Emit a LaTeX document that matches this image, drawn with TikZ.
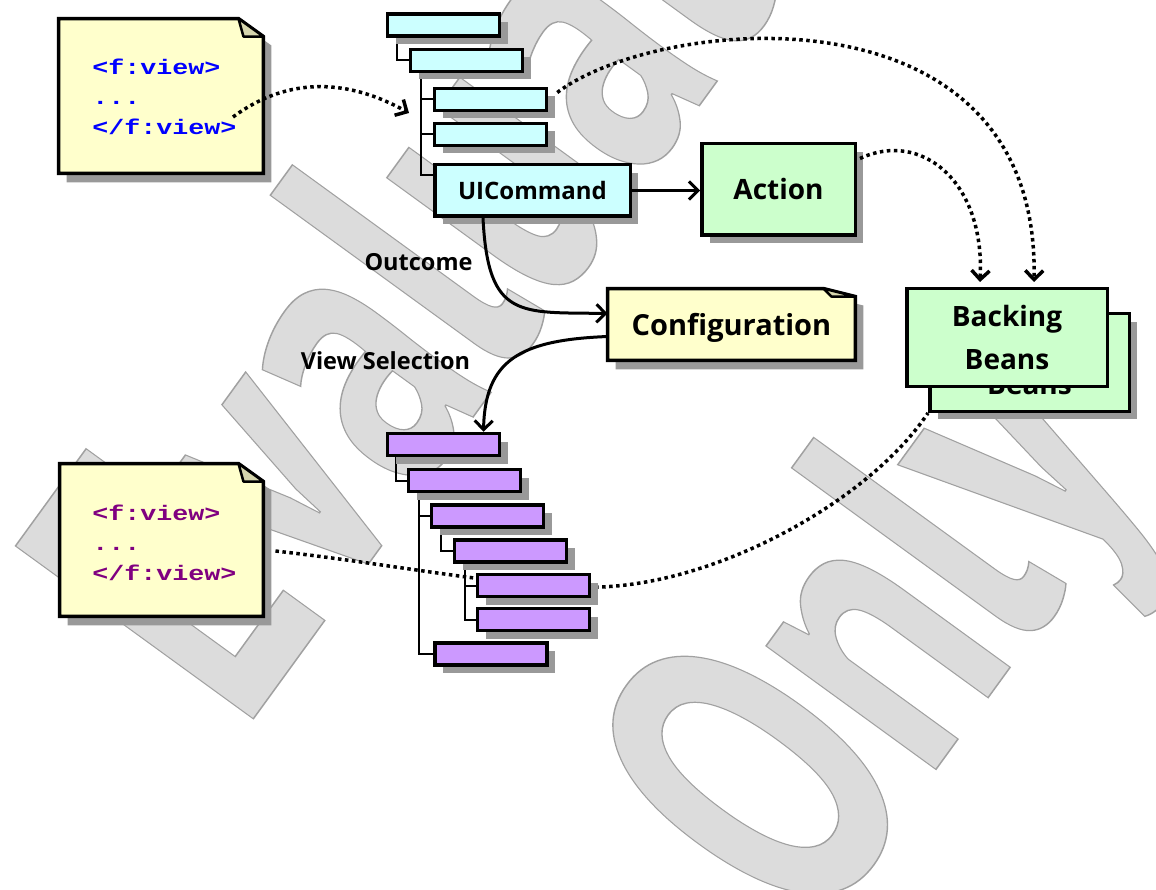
\documentclass[tikz,border=0pt]{standalone}
\usepackage{fontspec}
\setmainfont{Open Sans}
\newfontfamily\wmfont{PT Sans}
\newfontfamily\codefont{Liberation Mono}
\usetikzlibrary{arrows.meta,calc,shadows}
\definecolor{cyanfill}{HTML}{CCFFFF}
\definecolor{greenfill}{HTML}{CCFFCC}
\definecolor{purplefill}{HTML}{CC99FF}
\definecolor{notefill}{HTML}{FFFFCC}
\definecolor{foldfill}{HTML}{D6D6AD}
\definecolor{shadowgray}{HTML}{999999}
\definecolor{codeblue}{HTML}{0000FF}
\definecolor{codepurple}{HTML}{800080}
\definecolor{wmfill}{HTML}{DCDCDC}
\pgfdeclarelayer{wm}
\pgfdeclarelayer{bg}
\pgfdeclarelayer{notes}
\pgfsetlayers{wm,bg,notes,main}
\newcommand\wmon{\special{pdf:literal 2 Tr 1.5 w 0.63 G}}
\newcommand\wmoff{\special{pdf:literal 0 Tr}}
\tikzset{
  shadowed/.style={drop shadow={shadow xshift=8pt, shadow yshift=-8pt, fill=shadowgray, opacity=1}},
  box/.style={draw=black, line width=3.5pt, rectangle, inner sep=0pt, font=\bfseries\fontsize{28pt}{43pt}\selectfont, align=center},
  smallbox/.style={box, shadowed, minimum width=112pt, minimum height=22pt},
  cbox/.style={smallbox, fill=cyanfill},
  pbox/.style={smallbox, fill=purplefill},
  notebox/.style={rectangle, inner sep=0pt},
  notestyle/.style={draw=black, line width=3.5pt, fill=notefill, line join=miter},
  foldstyle/.style={draw=black, line width=2.5pt, fill=foldfill, line join=round},
  treeline/.style={line width=2pt, draw=black},
  code/.style={font=\codefont\bfseries\fontsize{21pt}{21pt}\selectfont, anchor=base west, inner sep=0pt, xscale=1.27},
  lbl/.style={font=\bfseries\fontsize{23.5pt}{23.5pt}\selectfont, anchor=base, inner sep=0pt},
  wmtext/.style={font=\wmfont\bfseries\fontsize{420pt}{420pt}\selectfont, text=wmfill, inner sep=0pt, anchor=base west, rotate=54, xscale=0.69},
  dotline/.style={line width=3.5pt, dash pattern=on 3.5pt off 3.5pt},
  solidline/.style={line width=3pt},
  arrowhd/.style={-{Straight Barb[length=9pt,width=18pt]}}
}
\begin{document}
\begin{tikzpicture}[x=1pt,y=-1pt]
\useasboundingbox (0,0) rectangle (1156,890);
% watermark
\begin{pgfonlayer}{wm}
\begin{scope}
\clip (0,0) rectangle (1156,890);
\node[wmtext] (wm1) at (243,733) {\wmon Evaluation\wmoff};
\node[wmtext] (wm2) at (812,940) {\wmon Only\wmoff};
\end{scope}
\end{pgfonlayer}

% notes (shape holders)
\node[notebox, minimum width=204.5pt, minimum height=154.5pt] (note1) at (161,96) {};
\node[notebox, minimum width=203.5pt, minimum height=152.5pt] (note2) at (161.5,540) {};
\node[notebox, minimum width=247.5pt, minimum height=71.5pt, font=\bfseries\fontsize{29pt}{29pt}\selectfont, text depth=0pt] (config) at (731.5,324.5) {Configuration};

\begin{pgfonlayer}{notes}
\foreach \n/\a/\b/\c in {note1/25/18/20, note2/25/18/20, config/32/8/24} {
  \fill[shadowgray] ($(\n.north west)+(8,9)$) -- ($(\n.north east)+(-\a+8,9)$) -- ($(\n.north east)+(8,\b+9)$) -- ($(\n.south east)+(8,9)$) -- ($(\n.south west)+(8,9)$) -- cycle;
  \draw[notestyle] (\n.north west) -- ($(\n.north east)+(-\a,0)$) -- ($(\n.north east)+(0,\b)$) -- (\n.south east) -- (\n.south west) -- cycle;
  \draw[foldstyle] ($(\n.north east)+(-\a,0)$) -- ($(\n.north east)+(-\c,\b)$) -- ($(\n.north east)+(0,\b)$) -- cycle;
}
\end{pgfonlayer}

% code texts
\node[code, text=codeblue] (c1a) at (92,75) {<f:view>};
\node[code, text=codeblue] (c1b) at (92,105) {...};
\node[code, text=codeblue] (c1c) at (92,135) {</f:view>};
\node[code, text=codepurple] (c2a) at (92,520) {<f:view>};
\node[code, text=codepurple] (c2b) at (92,550) {...};
\node[code, text=codepurple] (c2c) at (92,580) {</f:view>};

% cyan tree
\node[cbox] (b1) at (443.5,25) {};
\node[cbox] (b2) at (466.5,60.5) {};
\node[cbox] (b3) at (490.5,99.5) {};
\node[cbox] (b4) at (490.5,134.5) {};
\node[box, shadowed, fill=cyanfill, minimum width=195.5pt, minimum height=51.5pt, font=\bfseries\fontsize{24pt}{24pt}\selectfont] (uic) at (532.5,190.5) {UICommand};

% action
\node[box, shadowed, fill=greenfill, minimum width=153.5pt, minimum height=91.5pt] (action) at (778.5,189.5) {Action};

% backing beans
\node[box, shadowed, fill=greenfill, minimum width=199.5pt, minimum height=97.5pt] (bbback) at (1029.5,362.5) {Backing\\Beans};
\node[box, fill=greenfill, minimum width=200.5pt, minimum height=97.5pt] (bb) at (1007,337.5) {Backing\\Beans};

% purple tree
\node[pbox] (p1) at (443.5,444.5) {};
\node[pbox] (p2) at (464.5,480.5) {};
\node[pbox] (p3) at (487.5,516) {};
\node[pbox] (p4) at (510.5,551) {};
\node[pbox] (p5) at (533.5,585.5) {};
\node[pbox] (p6) at (533.5,619.5) {};
\node[pbox] (p7) at (491,654) {};

% tree lines and back connector
\begin{pgfonlayer}{bg}
\draw[treeline] ($(b1.south west)+(11,0)$) |- (b2.west);
\draw[treeline] ($(b2.south west)+(12,0)$) |- (b3.west);
\draw[treeline] ($(b2.south west)+(12,0)$) |- (b4.west);
\draw[treeline] ($(b2.south west)+(12,0)$) |- ($(uic.north west)+(0,12)$);
\draw[treeline] ($(p1.south west)+(10,0)$) |- (p2.west);
\draw[treeline] ($(p2.south west)+(12,0)$) |- (p3.west);
\draw[treeline] ($(p2.south west)+(12,0)$) |- (p7.west);
\draw[treeline] ($(p3.south west)+(11,0)$) |- (p4.west);
\draw[treeline] ($(p4.south west)+(12,0)$) |- (p5.west);
\draw[treeline] ($(p4.south west)+(12,0)$) |- (p6.west);
\draw[dotline] ($(note2.east)+(12,11)$) .. controls (400,565) and (520,590) .. (600,587) .. controls (720,583) and (870,500) .. (bbback.south west);
\end{pgfonlayer}

% labels
\node[lbl] (outcome) at (418.5,271) {Outcome};
\node[lbl] (viewsel) at (385.5,370) {View Selection};

% connectors
\coordinate (n1out) at (233,117);
\coordinate (treein) at (409,113);
\draw[dotline, arrowhd] (n1out) .. controls (290,75) and (350,80) .. (treein);
\draw[dotline, arrowhd] ($(b3.east)+(9,-7)$) .. controls (660,15) and (1040,-20) .. ($(bb.north west)+(129,-5)$);
\draw[dotline, arrowhd] ($(action.east)+(3,-31)$) .. controls (920,130) and (985,180) .. ($(bb.north west)+(75,-5)$);
\draw[solidline, arrowhd] (uic.east) -- (uic.east -| action.west);
\draw[solidline, arrowhd] ($(uic.south west)+(50,0)$) .. controls (488,320) and (520,312) .. ($(config.west)+(0,-11)$);
\draw[solidline, arrowhd] ($(config.west)+(0,12)$) .. controls (520,340) and (485,360) .. ($(p1.north)+(40,0)$);
\end{tikzpicture}
\end{document}
